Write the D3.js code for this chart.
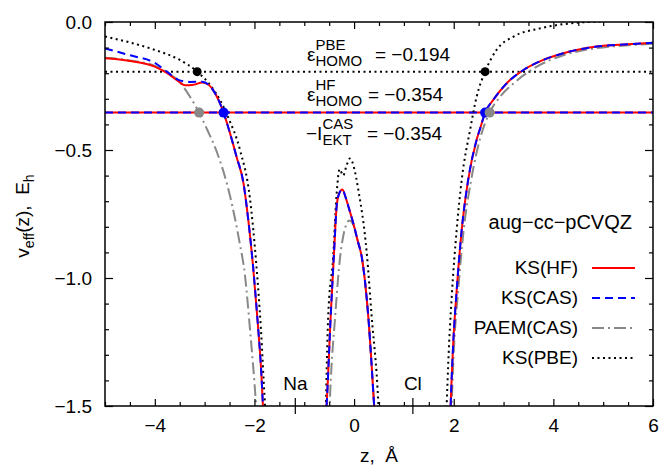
<!DOCTYPE html>
<html>
<head>
<meta charset="utf-8">
<script src="https://cdn.jsdelivr.net/npm/d3@7"></script>
<style>
  body { margin: 0; background: #fff; }
  text { font-family: "Liberation Sans", Arial, sans-serif; fill: #000; }
</style>
</head>
<body>
<svg id="chart"></svg>
<script>
const WIDTH = 661;
const HEIGHT = 466;
const MARGIN = { top: 22, right: 8, bottom: 60, left: 105 };

// tick values
const xTicks = [-4, -2, 0, 2, 4, 6];
const yTicks = [0, -0.5, -1.0, -1.5];

// orbital energies (horizontal lines)
const epsPBE = -0.194;
const epsHF = -0.354;

// atoms on the z axis
const atomNames = ["Na", "Cl"];
const atomZ = [-1.18, 1.18];

// curves: [z, v]
const ksHF = [
  [[-5.0, -0.142], [-4.5, -0.152], [-4.0, -0.174], [-3.75, -0.2], [-3.55, -0.228], [-3.39, -0.247],
   [-3.22, -0.245], [-3.05, -0.236], [-2.92, -0.245], [-2.83, -0.266], [-2.72, -0.305], [-2.62, -0.354],
   [-2.49, -0.435], [-2.36, -0.526], [-2.22, -0.63], [-2.12, -0.78], [-2.03, -0.95], [-1.94, -1.16],
   [-1.86, -1.38], [-1.83, -1.5], [-1.82, -1.55]],
  [[-0.57, -1.55], [-0.55, -1.49], [-0.47, -1.15], [-0.4, -0.89], [-0.35, -0.72], [-0.3, -0.67],
   [-0.236, -0.654], [-0.17, -0.685], [-0.1, -0.73], [-0.016, -0.786], [0.08, -0.86], [0.153, -0.917],
   [0.285, -1.151], [0.4, -1.49], [0.42, -1.55]],
  [[1.93, -1.55], [1.94, -1.49], [1.99, -1.255], [2.06, -1.047], [2.16, -0.8125], [2.29, -0.617],
   [2.46, -0.46], [2.54, -0.41], [2.63, -0.354], [2.79, -0.305], [3.06, -0.24], [3.4, -0.1875],
   [3.8, -0.148], [4.2, -0.122], [4.87, -0.096], [5.5, -0.087], [6.0, -0.081]]
];

const ksCAS = [
  [[-5.0, -0.103], [-4.5, -0.13], [-4.0, -0.16], [-3.75, -0.195], [-3.5, -0.228], [-3.3, -0.234],
   [-3.05, -0.233], [-2.92, -0.245], [-2.83, -0.266], [-2.72, -0.305], [-2.62, -0.354],
   [-2.49, -0.435], [-2.36, -0.526], [-2.22, -0.63], [-2.12, -0.78], [-2.03, -0.95], [-1.94, -1.16],
   [-1.86, -1.38], [-1.83, -1.5], [-1.82, -1.55]],
  ksHF[1],
  ksHF[2]
];

const paemCAS = [
  [[-5.0, -0.14], [-4.5, -0.15], [-4.0, -0.172], [-3.75, -0.198], [-3.5, -0.235], [-3.3, -0.29],
   [-3.11, -0.354], [-2.95, -0.42], [-2.76, -0.505], [-2.49, -0.68], [-2.3, -0.86], [-2.19, -0.99],
   [-2.09, -1.2], [-1.97, -1.49], [-1.95, -1.55]],
  [[-0.5, -1.55], [-0.48, -1.45], [-0.38, -1.151], [-0.28, -0.917], [-0.22, -0.839], [-0.095, -0.775],
   [0.0, -0.8], [0.05, -0.839], [0.153, -0.917], [0.285, -1.151], [0.4, -1.49], [0.42, -1.55]],
  [[1.95, -1.55], [1.96, -1.49], [2.01, -1.255], [2.09, -1.047], [2.2, -0.8125], [2.35, -0.617],
   [2.54, -0.448], [2.72, -0.354], [2.93, -0.292], [3.2, -0.24], [3.66, -0.175], [4.2, -0.13],
   [4.87, -0.102], [5.5, -0.091], [6.0, -0.085]]
];

const ksPBE = [
  [[-5.0, -0.057], [-4.5, -0.08], [-4.0, -0.109], [-3.5, -0.148], [-3.15, -0.194], [-2.89, -0.246],
   [-2.69, -0.305], [-2.52, -0.376], [-2.29, -0.5], [-2.09, -0.69], [-1.97, -0.93], [-1.87, -1.2],
   [-1.79, -1.49], [-1.77, -1.55]],
  [[-0.57, -1.55], [-0.56, -1.45], [-0.52, -1.15], [-0.42, -0.917], [-0.35, -0.67], [-0.29, -0.575],
   [-0.22, -0.6], [-0.15, -0.56], [-0.083, -0.533], [0.0, -0.57], [0.085, -0.656], [0.253, -0.9],
   [0.353, -1.151], [0.486, -1.49], [0.5, -1.55]],
  [[1.85, -1.55], [1.86, -1.49], [1.89, -1.333], [1.96, -1.073], [2.06, -0.81], [2.16, -0.617],
   [2.33, -0.42], [2.46, -0.292], [2.63, -0.194], [2.86, -0.109], [3.2, -0.057], [3.73, -0.025],
   [4.47, -0.003], [5.0, 0.002]]
];

// crossing points
const pointsBlue = [[-2.62, -0.354], [2.63, -0.354]];
const pointsGray = [[-3.11, -0.354], [2.72, -0.354]];
const pointsBlack = [[-3.15, -0.194], [2.63, -0.194]];

const legendNames = ["KS(HF)", "KS(CAS)", "PAEM(CAS)", "KS(PBE)"];

const styles = {
  hf: { stroke: "#ff0000", width: 2, dash: null },
  cas: { stroke: "#0000ff", width: 2, dash: "8,5" },
  paem: { stroke: "#888888", width: 2, dash: "12,4,2,4" },
  pbe: { stroke: "#000000", width: 2, dash: "2,3.5" }
};

const svg = d3.select("#chart").attr("width", WIDTH).attr("height", HEIGHT);

const xScale = d3.scaleLinear().domain([-5, 6]).range([MARGIN.left, WIDTH - MARGIN.right]);
const yScale = d3.scaleLinear().domain([-1.5, 0]).range([HEIGHT - MARGIN.bottom, MARGIN.top]);

const x0 = xScale.range()[0], x1 = xScale.range()[1];
const yb = yScale.range()[0], yt = yScale.range()[1];

svg.append("clipPath").attr("id", "clip")
  .append("rect").attr("x", x0).attr("y", yt).attr("width", x1 - x0).attr("height", yb - yt);

const plot = svg.append("g").attr("clip-path", "url(#clip)");

const line = d3.line()
  .x((d) => xScale(d[0]))
  .y((d) => yScale(d[1]))
  .curve(d3.curveMonotoneX);

function drawCurve(segments, st) {
  segments.forEach((seg) => {
    plot.append("path")
      .attr("d", line(seg))
      .attr("fill", "none")
      .attr("stroke", st.stroke)
      .attr("stroke-width", st.width)
      .attr("stroke-dasharray", st.dash);
  });
}

function drawHLine(v, st) {
  plot.append("line")
    .attr("x1", x0).attr("x2", x1)
    .attr("y1", yScale(v)).attr("y2", yScale(v))
    .attr("stroke", st.stroke)
    .attr("stroke-width", st.width)
    .attr("stroke-dasharray", st.dash);
}

drawHLine(epsPBE, styles.pbe);
drawHLine(epsHF, styles.hf);
drawHLine(epsHF, styles.cas);

drawCurve(ksPBE, styles.pbe);
drawCurve(paemCAS, styles.paem);
drawCurve(ksHF, styles.hf);
drawCurve(ksCAS, styles.cas);

function drawPoints(pts, color, r) {
  plot.selectAll(null).data(pts).enter().append("circle")
    .attr("cx", (d) => xScale(d[0]))
    .attr("cy", (d) => yScale(d[1]))
    .attr("r", r)
    .attr("fill", color);
}
drawPoints(pointsBlue, "#0000ff", 5);
drawPoints(pointsGray, "#888888", 5);
drawPoints(pointsBlack, "#000000", 4.5);

// axes: inward ticks on all four sides
const xMinor = d3.range(-5, 6.01, 0.5).filter((v) => !xTicks.includes(v));
const yMinor = d3.range(-15, 1).map((v) => v / 10).filter((v) => !yTicks.includes(v));

function tickAxis(axis, pos, vals, size, labels, pad) {
  const g = svg.append("g").attr("transform", pos)
    .call(axis.tickValues(vals).tickSize(size).tickPadding(pad)
      .tickFormat(labels ? null : ""));
  g.select(".domain").remove();
  g.selectAll("line").attr("stroke", "#000").attr("stroke-width", 1.2);
  g.selectAll("text").style("font-size", "19px")
    .style("font-family", '"Liberation Sans", Arial, sans-serif');
  return g;
}

const fmtX = d3.format("d");
const fmtY = d3.format(".1f");

tickAxis(d3.axisBottom(xScale), `translate(0,${yb})`, xTicks, -7, true, 13)
  .call((g) => g.selectAll("text").text((d) => fmtX(d)));
tickAxis(d3.axisBottom(xScale), `translate(0,${yb})`, xMinor, -4, false, 3);
tickAxis(d3.axisTop(xScale), `translate(0,${yt})`, xTicks, -7, false, 3);
tickAxis(d3.axisTop(xScale), `translate(0,${yt})`, xMinor, -4, false, 3);

tickAxis(d3.axisLeft(yScale), `translate(${x0},0)`, yTicks, -8, true, 13)
  .call((g) => g.selectAll("text").text((d) => fmtY(d)));
tickAxis(d3.axisLeft(yScale), `translate(${x0},0)`, yMinor, -4, false, 3);
tickAxis(d3.axisRight(yScale), `translate(${x1},0)`, yTicks, -8, false, 3);
tickAxis(d3.axisRight(yScale), `translate(${x1},0)`, yMinor, -4, false, 3);

// frame
svg.append("rect")
  .attr("x", x0).attr("y", yt).attr("width", x1 - x0).attr("height", yb - yt)
  .attr("fill", "none").attr("stroke", "#000").attr("stroke-width", 1.5);

// atom markers
atomZ.forEach((z, i) => {
  svg.append("line")
    .attr("x1", xScale(z)).attr("x2", xScale(z))
    .attr("y1", yb - 8).attr("y2", yb + 8)
    .attr("stroke", "#000").attr("stroke-width", 1.2);
  svg.append("text")
    .attr("x", xScale(z)).attr("y", yb - 16)
    .attr("text-anchor", "middle")
    .style("font-size", "19px")
    .text(atomNames[i]);
});

// axis titles
svg.append("text")
  .attr("x", 379).attr("y", 462)
  .attr("text-anchor", "middle")
  .style("font-size", "19px")
  .text("z,\u00a0\u00a0Å");

const yl = svg.append("text")
  .attr("transform", "translate(29,216) rotate(-90)")
  .attr("text-anchor", "middle")
  .style("font-size", "19px");
yl.append("tspan").text("v");
yl.append("tspan").attr("dy", 5).style("font-size", "14px").text("eff");
yl.append("tspan").attr("dy", -5).text("(z),\u00a0\u00a0E");
yl.append("tspan").attr("dy", 5).style("font-size", "14px").text("h");

// energy labels: symbol with stacked super/subscript, then the value
function addEnergyLabel(x, y, main, sup, sub, value, valueX) {
  const m = svg.append("text").attr("x", x).attr("y", y).style("font-size", "19px").text(main);
  const w = m.node().getComputedTextLength();
  svg.append("text").attr("x", x + w).attr("y", y - 11).style("font-size", "15px").text(sup);
  svg.append("text").attr("x", x + w).attr("y", y + 5).style("font-size", "15px").text(sub);
  svg.append("text").attr("x", valueX).attr("y", y).style("font-size", "19px")
    .text("= " + value);
}

const fmtE = d3.format(".3f");
addEnergyLabel(307, 61, "\u03b5", "PBE", "HOMO", fmtE(epsPBE), 375);
addEnergyLabel(307, 101, "\u03b5", "HF", "HOMO", fmtE(epsHF), 368);
addEnergyLabel(306, 140, "\u2212I", "CAS", "EKT", fmtE(epsHF), 367);

// legend
svg.append("text")
  .attr("x", 632).attr("y", 229)
  .attr("text-anchor", "end")
  .style("font-size", "20px")
  .text("aug\u2212cc\u2212pCVQZ");

const legendStyles = [styles.hf, styles.cas, styles.paem, styles.pbe];
legendNames.forEach((name, i) => {
  const y = 268 + i * 30;
  svg.append("text")
    .attr("x", 578).attr("y", y + 6)
    .attr("text-anchor", "end")
    .style("font-size", "19px")
    .text(name);
  const st = legendStyles[i];
  svg.append("line")
    .attr("x1", 592).attr("x2", 635)
    .attr("y1", y).attr("y2", y)
    .attr("stroke", st.stroke)
    .attr("stroke-width", st.width)
    .attr("stroke-dasharray", st.dash);
});
</script>
</body>
</html>
